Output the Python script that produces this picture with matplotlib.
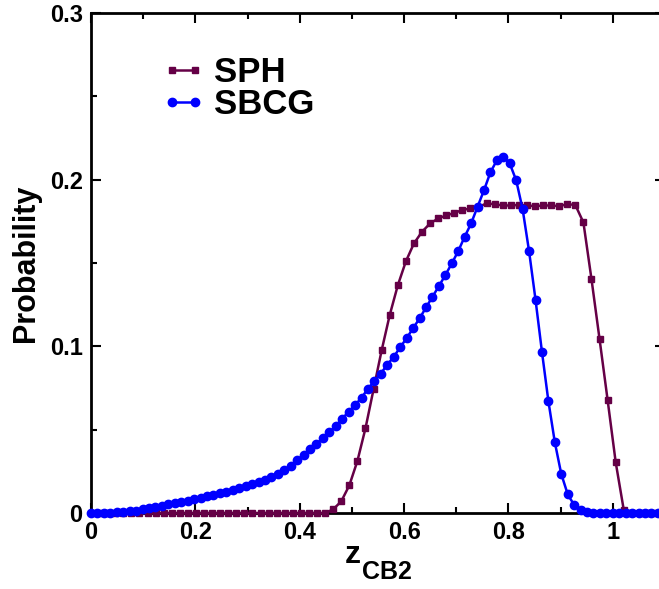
import numpy as np
import matplotlib
matplotlib.use('Agg')
import matplotlib.pyplot as plt
import matplotlib.ticker as ticker

plt.rcParams['font.family'] = ['Liberation Sans', 'DejaVu Sans']
plt.rcParams['font.weight'] = 'bold'

# SPH: bins spaced 0.01547 starting at j=1
sph_step = 0.01547
sph_y = [0.0] * 29 + [
    0.0022, 0.0070, 0.0166, 0.0312, 0.0508, 0.0742, 0.0975, 0.1187, 0.1365, 0.1509,
    0.1617, 0.1687, 0.1737, 0.1767, 0.1785, 0.1800, 0.1818, 0.1827, 0.1837, 0.1857,
    0.1853, 0.1845, 0.1845, 0.1848, 0.1845, 0.1841, 0.1845, 0.1845, 0.1841, 0.1853,
    0.1848, 0.1743, 0.1403, 0.1043, 0.0677, 0.0304, 0.0018,
    0.0, 0.0, 0.0, 0.0, 0.0]

# SBCG: bins spaced 1/81 starting at 0
sbcg_step = 1.0 / 81
sbcg_y = [
    0.0, 0.0, 0.0001, 0.0002, 0.0004, 0.0006, 0.0010, 0.0014, 0.0022, 0.0030,
    0.0038, 0.0045, 0.0053, 0.0061, 0.0068, 0.0075, 0.0083, 0.0091, 0.0100, 0.0109,
    0.0118, 0.0128, 0.0139, 0.0149, 0.0160, 0.0172, 0.0186, 0.0200, 0.0216, 0.0235,
    0.0256, 0.0285, 0.0316, 0.0348, 0.0382, 0.0412, 0.0452, 0.0484, 0.0522, 0.0567,
    0.0607, 0.0649, 0.0691, 0.0747, 0.0791, 0.0837, 0.0891, 0.0937, 0.0995, 0.1049,
    0.1109, 0.1167, 0.1233, 0.1297, 0.1361, 0.1427, 0.1497, 0.1571, 0.1657, 0.1737,
    0.1837, 0.1936, 0.2044, 0.2116, 0.2136, 0.2097, 0.1996, 0.1823, 0.1571, 0.1280,
    0.0967, 0.0671, 0.0424, 0.0234, 0.0112, 0.0048, 0.0018, 0.0007, 0.0003, 0.0001,
    0.0, 0.0, 0.0, 0.0, 0.0, 0.0, 0.0, 0.0, 0.0, 0.0]

sph_x = sph_step * np.arange(1, len(sph_y) + 1)
sbcg_x = sbcg_step * np.arange(len(sbcg_y))

fig = plt.figure(figsize=(6.59, 5.89), dpi=100)
ax = fig.add_axes([0.1381, 0.129, 0.871, 0.849])

ax.plot(sph_x, sph_y, color='#650046', marker='s', markersize=5, lw=1.8,
        label='SPH', clip_on=False, zorder=3)
ax.plot(sbcg_x, sbcg_y, color='#0000ff', marker='o', markersize=6, lw=1.8,
        label='SBCG', clip_on=False, zorder=4)

ax.set_xlim(0, 1.1)
ax.set_ylim(0, 0.3)
ax.xaxis.set_major_locator(ticker.MultipleLocator(0.2))
ax.xaxis.set_minor_locator(ticker.MultipleLocator(0.1))
ax.yaxis.set_major_locator(ticker.MultipleLocator(0.1))
ax.yaxis.set_minor_locator(ticker.MultipleLocator(0.05))
fmt = ticker.FuncFormatter(lambda v, p: '%g' % round(v, 3))
ax.xaxis.set_major_formatter(fmt)
ax.yaxis.set_major_formatter(fmt)
ax.tick_params(which='both', direction='in', top=True, right=True, width=1.5,
               labelsize=17)
ax.tick_params(which='major', length=7, pad=6)
ax.tick_params(which='minor', length=4)
for lab in ax.get_xticklabels() + ax.get_yticklabels():
    lab.set_fontweight('bold')
for s in ax.spines.values():
    s.set_linewidth(2)

ax.set_ylabel('Probability', fontsize=22, fontweight='bold', labelpad=6)
fig.text(345 / 659, 1 - 563 / 589, 'z', fontsize=23, fontweight='bold',
         ha='left', va='baseline')
fig.text(362 / 659, 1 - 579 / 589, 'CB2', fontsize=18, fontweight='bold',
         ha='left', va='baseline')

ax.legend(loc='upper left', bbox_to_anchor=(0.123, 0.914), frameon=False,
          numpoints=2, handlelength=1.25, handletextpad=0.25, labelspacing=-0.03,
          borderpad=0, borderaxespad=0, prop={'size': 25, 'weight': 'bold'})

fig.savefig('out.png', dpi=100)
